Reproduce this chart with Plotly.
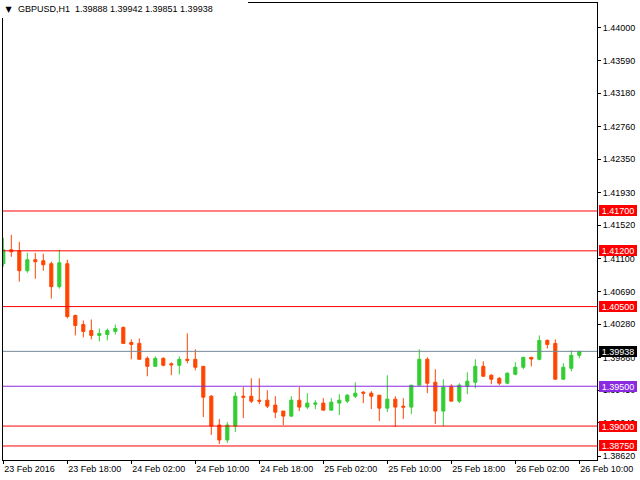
import pandas as pd
import plotly.graph_objects as go

# ---- data ----
start_time = "2016-02-23 10:00"
opens = [1.41038, 1.41213, 1.41200, 1.40950, 1.41088, 1.41075, 1.41038, 1.40750, 1.41038, 1.40388,
         1.40275, 1.40200, 1.40138, 1.40150, 1.40188, 1.40238, 1.40050, 1.40038, 1.39850, 1.39750,
         1.39850, 1.39781, 1.39763, 1.39838, 1.39838, 1.39750, 1.39375, 1.39013, 1.38825, 1.39000,
         1.39375, 1.39375, 1.39325, 1.39325, 1.39263, 1.39188, 1.39125, 1.39325, 1.39238, 1.39275,
         1.39288, 1.39200, 1.39288, 1.39313, 1.39375, 1.39425, 1.39413, 1.39388, 1.39225, 1.39338,
         1.39250, 1.39238, 1.39513, 1.39838, 1.39550, 1.39188, 1.39500, 1.39313, 1.39500, 1.39550,
         1.39750, 1.39638, 1.39600, 1.39538, 1.39650, 1.39738, 1.39863, 1.39838, 1.40075, 1.40038,
         1.39588, 1.39725, 1.39888]
highs = [1.41363, 1.41400, 1.41313, 1.41175, 1.41175, 1.41163, 1.41063, 1.41213, 1.41088, 1.40400,
         1.40325, 1.40338, 1.40225, 1.40225, 1.40275, 1.40250, 1.40088, 1.40100, 1.39875, 1.39875,
         1.39863, 1.39800, 1.39875, 1.40163, 1.39963, 1.39750, 1.39388, 1.39088, 1.39050, 1.39425,
         1.39488, 1.39600, 1.39600, 1.39450, 1.39375, 1.39188, 1.39375, 1.39488, 1.39413, 1.39325,
         1.39350, 1.39350, 1.39400, 1.39400, 1.39550, 1.39438, 1.39438, 1.39388, 1.39638, 1.39375,
         1.39350, 1.39513, 1.39963, 1.39863, 1.39713, 1.39588, 1.39525, 1.39538, 1.39675, 1.39838,
         1.39813, 1.39650, 1.39613, 1.39675, 1.39800, 1.39863, 1.39863, 1.40138, 1.40088, 1.40088,
         1.39788, 1.39950, 1.39942]
lows = [1.41000, 1.41125, 1.40813, 1.40925, 1.40850, 1.40950, 1.40600, 1.40725, 1.40350, 1.40138,
        1.40113, 1.40088, 1.40063, 1.40075, 1.40150, 1.40038, 1.39838, 1.39838, 1.39625, 1.39750,
        1.39750, 1.39638, 1.39650, 1.39788, 1.39700, 1.39113, 1.38888, 1.38775, 1.38788, 1.38925,
        1.39100, 1.39288, 1.39275, 1.39225, 1.39100, 1.39013, 1.39113, 1.39188, 1.39213, 1.39213,
        1.39200, 1.39200, 1.39138, 1.39288, 1.39350, 1.39288, 1.39213, 1.39063, 1.39175, 1.38988,
        1.39088, 1.39150, 1.39513, 1.39413, 1.39025, 1.39000, 1.39313, 1.39288, 1.39400, 1.39475,
        1.39625, 1.39525, 1.39513, 1.39525, 1.39638, 1.39713, 1.39750, 1.39825, 1.39975, 1.39588,
        1.39588, 1.39688, 1.39851]
closes = [1.41213, 1.41188, 1.40950, 1.41088, 1.41063, 1.41025, 1.40750, 1.41050, 1.40375, 1.40263,
          1.40188, 1.40138, 1.40163, 1.40200, 1.40225, 1.40038, 1.40025, 1.39838, 1.39750, 1.39850,
          1.39763, 1.39769, 1.39838, 1.39825, 1.39738, 1.39363, 1.39000, 1.38825, 1.39013, 1.39375,
          1.39363, 1.39313, 1.39313, 1.39250, 1.39175, 1.39125, 1.39325, 1.39238, 1.39288, 1.39288,
          1.39200, 1.39300, 1.39325, 1.39388, 1.39413, 1.39413, 1.39375, 1.39225, 1.39338, 1.39238,
          1.39238, 1.39513, 1.39838, 1.39538, 1.39188, 1.39488, 1.39313, 1.39513, 1.39563, 1.39750,
          1.39625, 1.39588, 1.39538, 1.39663, 1.39738, 1.39863, 1.39841, 1.40075, 1.40025, 1.39588,
          1.39738, 1.39888, 1.39938]

x_tick_hours = [0, 8, 16, 24, 32, 40, 48, 56, 64, 72]
x_tick_labels = ["23 Feb 2016", "23 Feb 18:00", "24 Feb 02:00", "24 Feb 10:00", "24 Feb 18:00",
                 "25 Feb 02:00", "25 Feb 10:00", "25 Feb 18:00", "26 Feb 02:00", "26 Feb 10:00"]
y_ticks = [1.44000, 1.43590, 1.43180, 1.42760, 1.42350, 1.41930, 1.41520, 1.41100,
           1.40690, 1.40280, 1.39860, 1.39450, 1.39040, 1.38620]

red_levels = [1.41700, 1.41200, 1.40500, 1.39000, 1.38750]
purple_level = 1.39500
bid_level = 1.39938
title_text = "GBPUSD,H1\u00a0 1.39888 1.39942 1.39851 1.39938"

# ---- build ----
t0 = pd.Timestamp(start_time)
times = pd.date_range(t0, periods=len(opens), freq="h")
tickvals = [t0 + pd.Timedelta(hours=h) for h in x_tick_hours]

GREEN = "#32CD32"
ORANGE = "#FF4500"
RED = "#FF0000"
PURPLE = "#8A2BE2"
GRAY = "#778899"

fig = go.Figure()
fig.add_trace(go.Candlestick(
    x=times, open=opens, high=highs, low=lows, close=closes,
    increasing=dict(line=dict(color=GREEN, width=1), fillcolor=GREEN),
    decreasing=dict(line=dict(color=ORANGE, width=1), fillcolor=ORANGE),
    whiskerwidth=0, hoverinfo="skip",
))

shapes = []
for lv in red_levels:
    shapes.append(dict(type="line", xref="paper", x0=0, x1=1, yref="y", y0=lv, y1=lv,
                       line=dict(color=RED, width=1), layer="above"))
shapes.append(dict(type="line", xref="paper", x0=0, x1=1, yref="y", y0=purple_level, y1=purple_level,
                   line=dict(color=PURPLE, width=1), layer="above"))
shapes.append(dict(type="line", xref="paper", x0=0, x1=1, yref="y", y0=bid_level, y1=bid_level,
                   line=dict(color=GRAY, width=1), layer="above"))

PLOT_W = 594.0
PLOT_H = 457.0
badge_x = (599 - 3) / PLOT_W

annotations = []
def badge(level, color):
    annotations.append(dict(
        xref="paper", x=badge_x, xanchor="left", yref="y", y=level, yanchor="middle",
        text=f"{level:.5f}", showarrow=False, bgcolor=color, borderwidth=0, borderpad=0,
        width=38, height=11, align="center",
        font=dict(family="Liberation Sans", size=9, color="white")))

for lv in red_levels:
    badge(lv, RED)
badge(purple_level, PURPLE)
badge(bid_level, "#000000")

# title boxes (white background covering frame)
annotations.append(dict(
    xref="paper", x=-3 / PLOT_W, xanchor="left", yref="paper", y=1 + 3 / PLOT_H, yanchor="top",
    text="\u25BC", showarrow=False, bgcolor="white", borderwidth=0, borderpad=0,
    width=18, height=18, align="center", valign="middle",
    font=dict(family="DejaVu Sans", size=8, color="black")))
annotations.append(dict(
    xref="paper", x=15 / PLOT_W, xanchor="left", yref="paper", y=1 + 3 / PLOT_H, yanchor="top",
    text=title_text, showarrow=False, bgcolor="white", borderwidth=0, borderpad=0,
    width=230, height=18, align="left", valign="middle",
    font=dict(family="Liberation Sans", size=9, color="black")))

x_start = t0 - pd.Timedelta(minutes=2.4)
x_end = x_start + pd.Timedelta(hours=PLOT_W / 8.0)

fig.update_layout(
    width=640, height=480,
    margin=dict(l=3, r=43, t=3, b=20, pad=0),
    paper_bgcolor="white", plot_bgcolor="white",
    showlegend=False, boxgap=0.45,
    shapes=shapes, annotations=annotations,
    font=dict(family="Liberation Sans", size=9, color="black"),
    xaxis=dict(
        type="date", range=[x_start, x_end], rangeslider=dict(visible=False),
        tickvals=tickvals, ticktext=x_tick_labels, ticks="outside", ticklen=3,
        tickcolor="black", tickwidth=1, showline=True, linecolor="black", linewidth=1,
        mirror=True, showgrid=False, zeroline=False, ticklabelposition="outside right",
        tickfont=dict(family="Liberation Sans", size=9, color="black"),
    ),
    yaxis=dict(
        side="right", range=[1.38574, 1.44311],
        tickvals=y_ticks, ticktext=[f"{v:.5f}" for v in y_ticks],
        ticks="outside", ticklen=3, tickcolor="black", tickwidth=1,
        showline=True, linecolor="black", linewidth=1, mirror=True,
        showgrid=False, zeroline=False,
        tickfont=dict(family="Liberation Sans", size=9, color="black"),
    ),
)

fig.write_html("out.html")
